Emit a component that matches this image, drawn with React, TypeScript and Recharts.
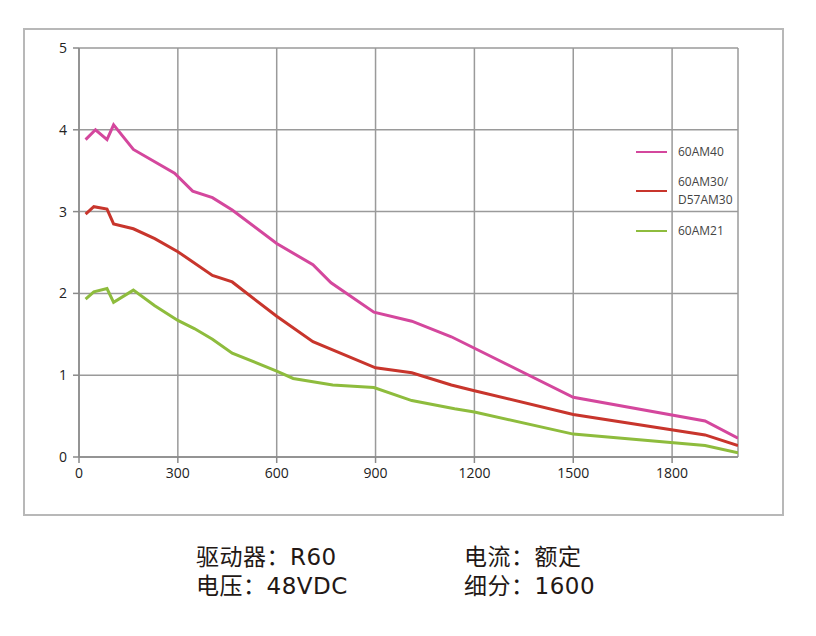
import React from "react";
import { LineChart, Line, XAxis, YAxis, CartesianGrid } from "recharts";

const xTicks = [0, 300, 600, 900, 1200, 1500, 1800];
const yTicks = [0, 1, 2, 3, 4, 5];

const am40Speed = [20, 50, 85, 105, 165, 290, 345, 405, 465, 600, 710, 765, 895, 1010, 1130, 1500, 1900, 2000];
const am40Torque = [3.88, 4.0, 3.88, 4.06, 3.76, 3.47, 3.25, 3.17, 3.02, 2.61, 2.35, 2.13, 1.77, 1.66, 1.47, 0.73, 0.44, 0.23];

const am30Speed = [20, 45, 85, 105, 165, 230, 300, 405, 465, 600, 710, 900, 1010, 1130, 1200, 1500, 1900, 2000];
const am30Torque = [2.97, 3.06, 3.03, 2.85, 2.79, 2.67, 2.51, 2.22, 2.14, 1.72, 1.41, 1.09, 1.03, 0.88, 0.81, 0.52, 0.27, 0.14];

const am21Speed = [20, 45, 85, 105, 165, 230, 300, 350, 405, 465, 600, 650, 770, 895, 1010, 1140, 1200, 1500, 1900, 2000];
const am21Torque = [1.93, 2.02, 2.06, 1.89, 2.04, 1.85, 1.67, 1.57, 1.44, 1.27, 1.05, 0.96, 0.88, 0.85, 0.69, 0.59, 0.55, 0.28, 0.14, 0.05];

const seriesNames = ["60AM40", "60AM30/\nD57AM30", "60AM21"];
const seriesColors = ["#D4479D", "#C8352C", "#8EBC3D"];

const captionLeft = ["驱动器：R60", "电压：48VDC"];
const captionRight = ["电流：额定", "细分：1600"];

const zip = (xs: number[], ys: number[]) => xs.map((x, i) => ({ x, y: ys[i] }));

const am40 = zip(am40Speed, am40Torque);
const am30 = zip(am30Speed, am30Torque);
const am21 = zip(am21Speed, am21Torque);

const legendTops = [152, 191, 231];

const captionStyle: React.CSSProperties = {
  position: "absolute",
  top: 543,
  fontFamily: "'DejaVu Sans', 'Noto Sans CJK SC', sans-serif",
  fontSize: 23,
  fontWeight: 400,
  letterSpacing: 0.5,
  lineHeight: "29px",
  color: "#231815",
  whiteSpace: "nowrap",
};

export default function App() {
  return (
    <div style={{ position: "absolute", left: 0, top: 0, width: 816, height: 636, background: "#fff" }}>
      <div
        style={{
          position: "absolute",
          left: 23,
          top: 28,
          width: 757,
          height: 484,
          border: "2px solid #b8b8b8",
        }}
      />
      <div style={{ position: "absolute", left: 0, top: 0 }}>
        <LineChart width={816} height={636} margin={{ top: 48, right: 78, bottom: 149, left: 19 }}>
          <CartesianGrid stroke="#9a9a9a" strokeWidth={1.5} />
          <XAxis
            type="number"
            dataKey="x"
            domain={[0, 2000]}
            ticks={xTicks}
            allowDataOverflow
            axisLine={{ stroke: "#8a8a8a", strokeWidth: 1.5 }}
            tickLine={{ stroke: "#8a8a8a", strokeWidth: 1.5 }}
            tickSize={6}
            tickMargin={5}
            tick={{ fill: "#222", fontSize: 14, fontFamily: "'Open Sans', sans-serif" }}
            height={30}
          />
          <YAxis
            type="number"
            domain={[0, 5]}
            ticks={yTicks}
            axisLine={{ stroke: "#8a8a8a", strokeWidth: 1.5 }}
            tickLine={{ stroke: "#8a8a8a", strokeWidth: 1.5 }}
            tickSize={6}
            tickMargin={6}
            tick={{ fill: "#222", fontSize: 14, fontFamily: "'Open Sans', sans-serif" }}
            width={60}
          />
          <Line data={am40} dataKey="y" name={seriesNames[0]} stroke={seriesColors[0]} strokeWidth={3} dot={false} isAnimationActive={false} />
          <Line data={am30} dataKey="y" name={seriesNames[1]} stroke={seriesColors[1]} strokeWidth={3} dot={false} isAnimationActive={false} />
          <Line data={am21} dataKey="y" name={seriesNames[2]} stroke={seriesColors[2]} strokeWidth={3} dot={false} isAnimationActive={false} />
        </LineChart>
      </div>
      {seriesNames.map((name, i) => {
        const lines = name.split("\n");
        return (
          <React.Fragment key={i}>
            <div
              style={{
                position: "absolute",
                left: 636,
                top: legendTops[i] - 1,
                width: 31,
                height: 2,
                background: seriesColors[i],
              }}
            />
            <div
              style={{
                position: "absolute",
                left: 678,
                top: legendTops[i] - (lines.length * 18) / 2,
                fontFamily: "'Open Sans', sans-serif",
                fontSize: 12,
                lineHeight: "18px",
                color: "#444",
                whiteSpace: "nowrap",
              }}
            >
              {lines.map((l, j) => (
                <div key={j}>{l}</div>
              ))}
            </div>
          </React.Fragment>
        );
      })}
      <div style={{ ...captionStyle, left: 196 }}>
        {captionLeft.map((t, i) => (
          <div key={i}>{t}</div>
        ))}
      </div>
      <div style={{ ...captionStyle, left: 464 }}>
        {captionRight.map((t, i) => (
          <div key={i}>{t}</div>
        ))}
      </div>
    </div>
  );
}
